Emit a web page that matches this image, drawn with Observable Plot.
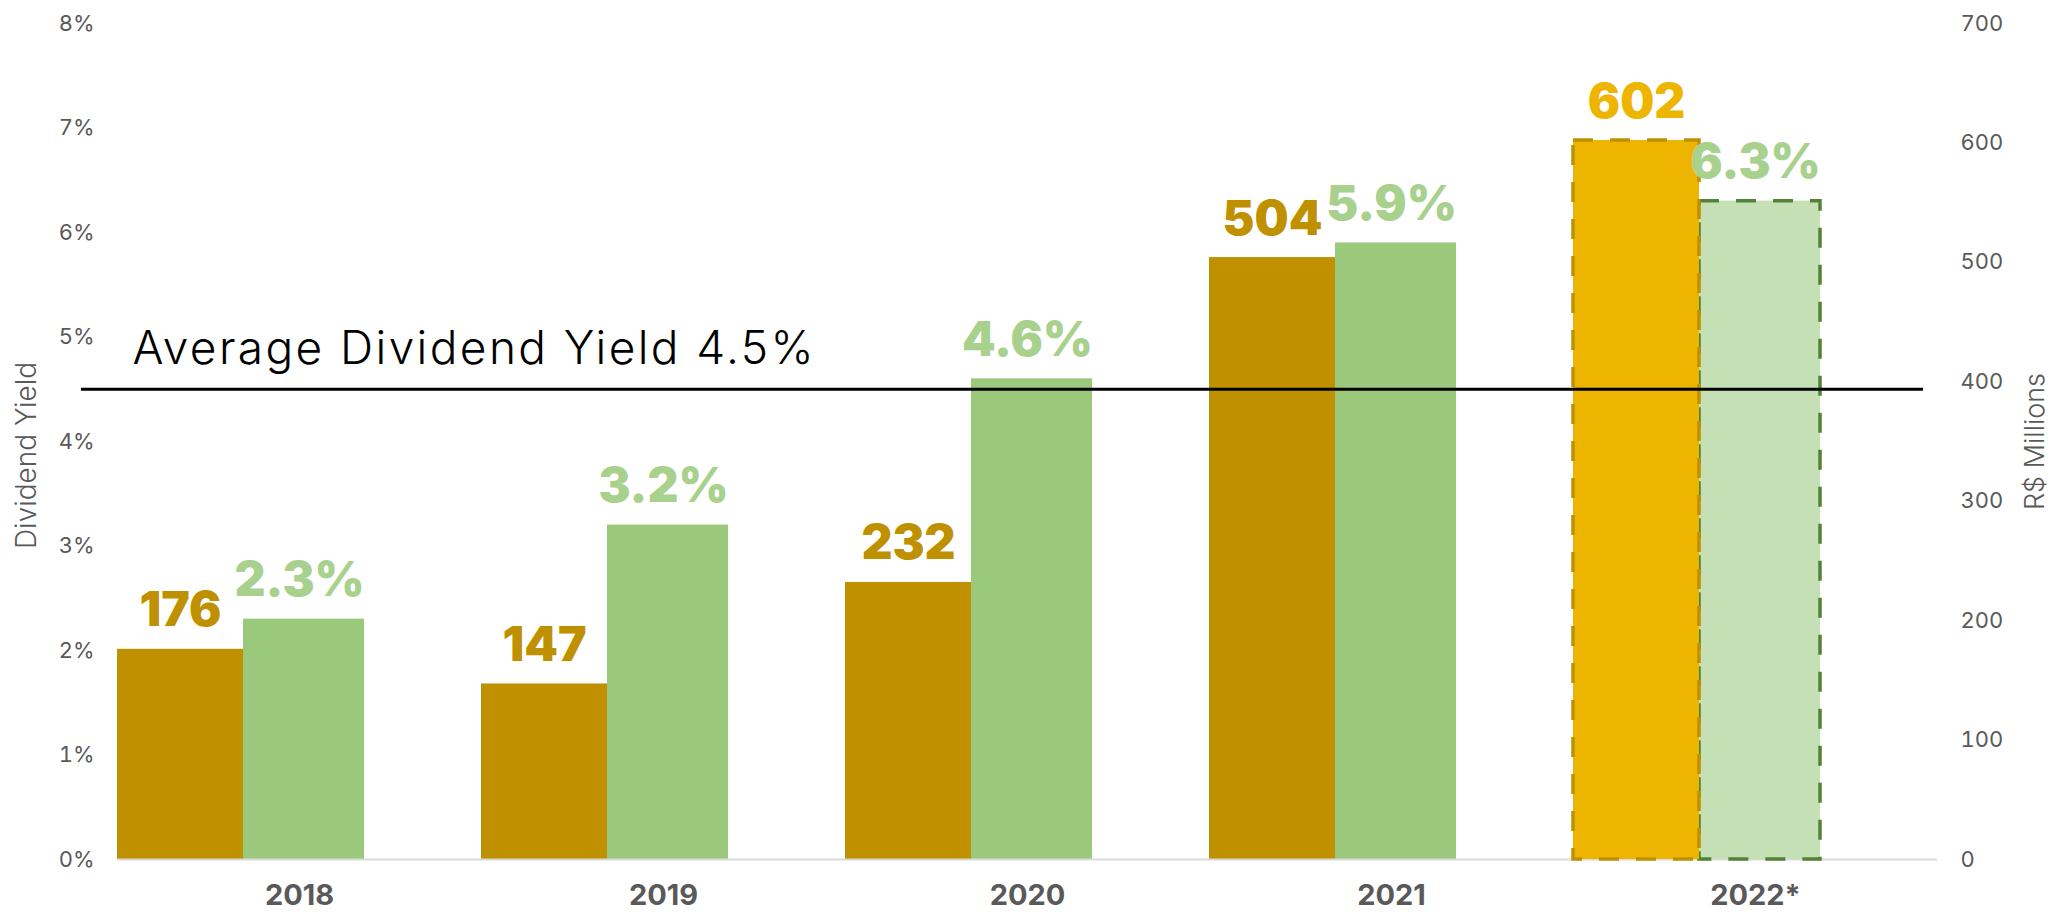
<!DOCTYPE html>
<html><head><meta charset="utf-8">
<script src="https://cdn.jsdelivr.net/npm/d3@7"></script>
<script src="https://cdn.jsdelivr.net/npm/@observablehq/plot@0.6"></script>
<style>html,body{margin:0;padding:0;background:#fff;} svg{display:block;}</style>
</head><body><div id="chart"></div>
<script>
// ---- data ----
const years = ["2018", "2019", "2020", "2021", "2022*"];
const dividendsMillions = [176, 147, 232, 504, 602];
const dividendYieldPct = [2.3, 3.2, 4.6, 5.9, 6.3];
const yieldTicks = [0, 1, 2, 3, 4, 5, 6, 7, 8];
const millionsTicks = [0, 100, 200, 300, 400, 500, 600, 700];
const averageYield = 4.5;
const averageLabel = "Average Dividend Yield 4.5%";
const leftTitle = "Dividend Yield";
const rightTitle = "R$ Millions";

// secondary (right) axis maps onto the primary percent scale
const yMax = yieldTicks[yieldTicks.length - 1];
const mMax = millionsTicks[millionsTicks.length - 1];
const toY = m => m * yMax / mMax;

const rows = years.map((year, i) => ({year, div: dividendsMillions[i], yld: dividendYieldPct[i], est: year.endsWith("*")}));
const actual = rows.filter(d => !d.est);
const est = rows.filter(d => d.est);

const GOLD = "#BF9000", GOLD_EST = "#EDB500";
const GREEN = "#9BC97B", GREEN_EST = "#C5E0B4", GREEN_LABEL = "#A9D18E", GREEN_DASH = "#538135";
const AXIS = "#595959";
const dash = {strokeWidth: 3.5, strokeDasharray: "20,17"};
const goldInset = {insetLeft: 0, insetRight: 238};
const greenInset = {insetLeft: 126, insetRight: 117};

const chart = Plot.plot({
  width: 2057,
  height: 914,
  marginLeft: 117,
  marginRight: 120,
  marginTop: 23,
  marginBottom: 55,
  style: {fontFamily: "Inter, 'Open Sans', sans-serif", background: "#fff"},
  x: {type: "band", domain: years, padding: 0},
  y: {domain: [0, yMax]},
  marks: [
    Plot.barY(actual, {x: "year", y: d => toY(d.div), fill: GOLD, ...goldInset}),
    Plot.barY(actual, {x: "year", y: "yld", fill: GREEN, ...greenInset}),
    Plot.ruleY([0], {stroke: "#D9D9D9", strokeWidth: 2}),
    Plot.barY(est, {x: "year", y: "yld", fill: GREEN_EST, stroke: GREEN_DASH, ...dash, ...greenInset}),
    Plot.barY(est, {x: "year", y: d => toY(d.div), fill: GOLD_EST, stroke: GOLD, ...dash, ...goldInset}),
    Plot.ruleY([averageYield], {stroke: "#000", strokeWidth: 3.2, insetLeft: -36, insetRight: 14}),
    Plot.text([averageYield], {y: d => d, text: () => averageLabel, frameAnchor: "left", textAnchor: "start", lineAnchor: "bottom", dx: 15, dy: -25, fontSize: 46, fontWeight: 300, fill: "#000"}),
    Plot.text(actual, {x: "year", y: d => toY(d.div), text: d => String(d.div), dx: -119, dy: -23, lineAnchor: "bottom", fontSize: 48, fontWeight: 900, fill: GOLD}),
    Plot.text(est, {x: "year", y: d => toY(d.div), text: d => String(d.div), dx: -119, dy: -23, lineAnchor: "bottom", fontSize: 48, fontWeight: 900, fill: GOLD_EST}),
    Plot.text(rows, {x: "year", y: "yld", text: d => d.yld.toFixed(1) + "%", dx: 0, dy: -23, lineAnchor: "bottom", fontSize: 48, fontWeight: 900, fill: GREEN_LABEL}),
    Plot.axisY(yieldTicks, {anchor: "left", tickSize: 0, tickPadding: 23, tickFormat: d => d + "%", fontSize: 22, fill: AXIS, label: null}),
    Plot.axisY(millionsTicks.map(toY), {anchor: "right", tickSize: 0, tickPadding: 23, tickFormat: d => String(Math.round(d * mMax / yMax)), fontSize: 22, fill: AXIS, label: null}),
    Plot.axisX({tickSize: 0, tickPadding: 25, fontSize: 29, fontWeight: 700, fill: AXIS, label: null}),
    Plot.text([leftTitle], {frameAnchor: "left", textAnchor: "middle", dx: -90, dy: 14, rotate: -90, fontSize: 28, fontWeight: 300, fill: AXIS}),
    Plot.text([rightTitle], {frameAnchor: "right", textAnchor: "middle", dx: 98, rotate: -90, fontSize: 27, fontWeight: 300, fill: AXIS})
  ]
});
// widen the average label's tracking to match the reference typeface
d3.select(chart).selectAll("text").filter(function () { return this.textContent === averageLabel; })
  .style("letter-spacing", "2.4px");
document.getElementById("chart").appendChild(chart);
</script>
</body></html>
